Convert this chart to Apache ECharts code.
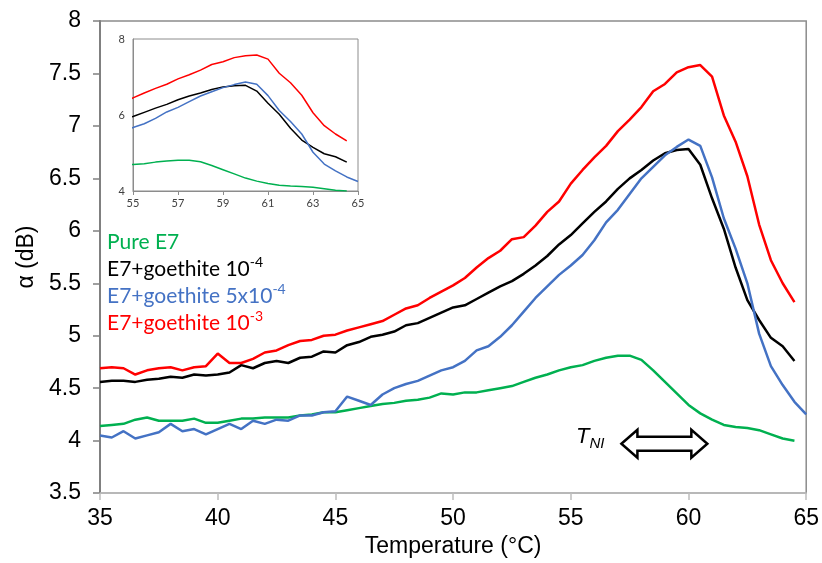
<!DOCTYPE html>
<html>
<head>
<meta charset="utf-8">
<title>alpha vs temperature</title>
<script src="https://cdn.jsdelivr.net/npm/echarts@6/dist/echarts.min.js"></script>
<style>
  html, body { margin: 0; padding: 0; background: #fff; }
  #chart { width: 822px; height: 563px; }
</style>
</head>
<body>
<div id="chart"></div>
<script>
// temperature (°C), read every 0.5 degree
const temps = [35, 35.5, 36, 36.5, 37, 37.5, 38, 38.5, 39, 39.5, 40, 40.5, 41, 41.5, 42, 42.5, 43, 43.5, 44, 44.5,
  45, 45.5, 46, 46.5, 47, 47.5, 48, 48.5, 49, 49.5, 50, 50.5, 51, 51.5, 52, 52.5, 53, 53.5, 54, 54.5,
  55, 55.5, 56, 56.5, 57, 57.5, 58, 58.5, 59, 59.5, 60, 60.5, 61, 61.5, 62, 62.5, 63, 63.5, 64, 64.5, 65];

// attenuation α (dB)
const pureE7 = [4.14, 4.15, 4.16, 4.20, 4.22, 4.19, 4.19, 4.19, 4.21, 4.17, 4.17, 4.19, 4.21, 4.21, 4.22, 4.22, 4.22, 4.24, 4.25, 4.27,
  4.27, 4.29, 4.31, 4.33, 4.35, 4.36, 4.38, 4.39, 4.41, 4.45, 4.44, 4.46, 4.46, 4.48, 4.50, 4.52, 4.56, 4.60, 4.63, 4.67,
  4.70, 4.72, 4.76, 4.79, 4.81, 4.81, 4.77, 4.67, 4.56, 4.45, 4.34, 4.26, 4.20, 4.15, 4.13, 4.12, 4.10, 4.06, 4.02, 4.00, null];

const goethite1e4 = [4.56, 4.57, 4.57, 4.56, 4.58, 4.59, 4.61, 4.60, 4.63, 4.62, 4.63, 4.65, 4.72, 4.69, 4.74, 4.76, 4.74, 4.79, 4.80, 4.85,
  4.84, 4.91, 4.94, 4.99, 5.01, 5.04, 5.10, 5.12, 5.17, 5.22, 5.27, 5.29, 5.35, 5.41, 5.47, 5.52, 5.59, 5.67, 5.76, 5.87,
  5.96, 6.07, 6.18, 6.28, 6.40, 6.50, 6.58, 6.67, 6.74, 6.77, 6.78, 6.63, 6.31, 6.02, 5.65, 5.34, 5.15, 4.98, 4.90, 4.76, null];

const goethite5e4 = [4.05, 4.03, 4.09, 4.02, 4.05, 4.08, 4.16, 4.09, 4.11, 4.06, 4.11, 4.16, 4.11, 4.19, 4.16, 4.20, 4.19, 4.24, 4.24, 4.27,
  4.28, 4.42, 4.38, 4.34, 4.44, 4.50, 4.54, 4.57, 4.62, 4.67, 4.70, 4.76, 4.86, 4.90, 4.99, 5.10, 5.23, 5.36, 5.47, 5.58,
  5.67, 5.77, 5.91, 6.08, 6.20, 6.35, 6.50, 6.61, 6.72, 6.80, 6.87, 6.81, 6.51, 6.12, 5.83, 5.50, 5.02, 4.71, 4.53, 4.37, 4.25];

const goethite1e3 = [4.69, 4.70, 4.69, 4.63, 4.67, 4.69, 4.70, 4.67, 4.70, 4.71, 4.83, 4.74, 4.74, 4.78, 4.84, 4.86, 4.91, 4.95, 4.96, 5.00,
  5.01, 5.05, 5.08, 5.11, 5.14, 5.20, 5.26, 5.29, 5.36, 5.42, 5.48, 5.55, 5.65, 5.74, 5.81, 5.92, 5.94, 6.05, 6.18, 6.28,
  6.45, 6.58, 6.70, 6.81, 6.95, 7.06, 7.18, 7.33, 7.40, 7.51, 7.56, 7.58, 7.47, 7.10, 6.85, 6.52, 6.06, 5.72, 5.50, 5.32, null];

const seriesNames = ['Pure E7', 'E7+goethite 10^-4', 'E7+goethite 5x10^-4', 'E7+goethite 10^-3'];
const seriesColors = ['#00b050', '#000000', '#4472c4', '#ff0000'];
const seriesValues = [pureE7, goethite1e4, goethite5e4, goethite1e3];

function toPairs(values) {
  return temps.map((t, i) => [t, values[i]]).filter(p => p[1] != null);
}

const chart = echarts.init(document.getElementById('chart'));

const mainSeries = seriesNames.map((name, i) => ({
  name: name,
  type: 'line',
  xAxisIndex: 0,
  yAxisIndex: 0,
  data: toPairs(seriesValues[i]),
  showSymbol: false,
  symbol: 'none',
  color: seriesColors[i],
  lineStyle: { width: 2.5, color: seriesColors[i] },
  z: 2
}));

const insetSeries = seriesNames.map((name, i) => ({
  name: name,
  type: 'line',
  xAxisIndex: 1,
  yAxisIndex: 1,
  data: toPairs(seriesValues[i]),
  showSymbol: false,
  symbol: 'none',
  color: seriesColors[i],
  lineStyle: { width: 1.5, color: seriesColors[i] },
  clip: true,
  z: 12
}));

chart.setOption({
  animation: false,
  backgroundColor: '#fff',
  textStyle: { fontFamily: 'Liberation Sans' },
  legend: {
    orient: 'vertical',
    left: 102,
    top: 232,
    padding: 0,
    itemGap: 2,
    itemWidth: 0,
    itemHeight: 0,
    icon: 'none',
    selectedMode: false,
    data: seriesNames.map((n, i) => ({ name: n, textStyle: { color: seriesColors[i] } })),
    formatter: function (name) {
      const parts = name.split('^');
      if (parts.length === 1) return '{b|' + name + '}';
      return '{b|' + parts[0] + '}{s|' + parts[1] + '}';
    },
    textStyle: {
      fontFamily: 'Lato',
      fontSize: 21,
      rich: {
        b: { fontFamily: 'Lato', fontSize: 21, lineHeight: 25, verticalAlign: 'bottom' },
        s: { fontFamily: 'Lato', fontSize: 14, lineHeight: 25, verticalAlign: 'top' }
      }
    }
  },
  grid: [
    { left: 100, right: 15, top: 21, bottom: 65, show: true, borderColor: '#8c8c8c', borderWidth: 1.5, backgroundColor: 'transparent' },
    { left: 133, top: 39, width: 225, height: 152, show: true, borderColor: '#8c8c8c', borderWidth: 1, backgroundColor: '#fff', z: 10 }
  ],
  xAxis: [
    {
      gridIndex: 0,
      type: 'value',
      min: 35,
      max: 65,
      interval: 5,
      name: 'Temperature (°C)',
      nameLocation: 'middle',
      nameGap: 37,
      nameTextStyle: { fontSize: 23, color: '#000', fontFamily: 'Liberation Sans' },
      axisLine: { lineStyle: { color: '#bdbdbd', width: 1.5 } },
      axisTick: { show: true, length: 7, lineStyle: { color: '#bdbdbd', width: 1.5 } },
      axisLabel: { fontSize: 23, color: '#000', margin: 14, fontFamily: 'Liberation Sans' },
      splitLine: { show: false }
    },
    {
      gridIndex: 1,
      type: 'value',
      min: 55,
      max: 65,
      interval: 2,
      z: 11,
      axisLine: { lineStyle: { color: '#8c8c8c', width: 1 } },
      axisTick: { show: true, length: 4, lineStyle: { color: '#8c8c8c' } },
      axisLabel: { fontSize: 11, color: '#404040', margin: 7, fontFamily: 'Lato' },
      splitLine: { show: false }
    }
  ],
  yAxis: [
    {
      gridIndex: 0,
      type: 'value',
      min: 3.5,
      max: 8,
      interval: 0.5,
      name: 'α (dB)',
      nameLocation: 'middle',
      nameGap: 60,
      nameTextStyle: { fontSize: 23, color: '#000', fontFamily: 'Liberation Sans' },
      axisLine: { show: true, lineStyle: { color: '#808080', width: 2 } },
      axisTick: { show: true, length: 7, lineStyle: { color: '#808080', width: 1.5 } },
      axisLabel: { fontSize: 23, color: '#000', margin: 19, fontFamily: 'Liberation Sans' },
      splitLine: { show: false }
    },
    {
      gridIndex: 1,
      type: 'value',
      min: 4,
      max: 8,
      interval: 2,
      z: 11,
      axisLine: { show: true, lineStyle: { color: '#8c8c8c', width: 1 } },
      axisTick: { show: false },
      axisLabel: { fontSize: 11, color: '#404040', margin: 8, fontFamily: 'Lato' },
      splitLine: { show: false }
    }
  ],
  series: mainSeries.concat(insetSeries)
});

// T_NI label and the open double arrow, placed in data coordinates
const arrowL = chart.convertToPixel({ gridIndex: 0 }, [57.15, 3.97]);
const arrowR = chart.convertToPixel({ gridIndex: 0 }, [60.80, 3.97]);
const labelPos = chart.convertToPixel({ gridIndex: 0 }, [55.22, 4.02]);
const yc = arrowL[1];
const h = 16, H = 14, s = 7;
const xl = arrowL[0], xr = arrowR[0];

chart.setOption({
  graphic: [
    {
      type: 'polygon',
      z: 20,
      shape: {
        points: [
          [xl, yc], [xl + h, yc - H], [xl + h, yc - s], [xr - h, yc - s], [xr - h, yc - H],
          [xr, yc], [xr - h, yc + H], [xr - h, yc + s], [xl + h, yc + s], [xl + h, yc + H]
        ]
      },
      style: { fill: '#fff', stroke: '#000', lineWidth: 2.5, lineJoin: 'miter' }
    },
    {
      type: 'text',
      z: 20,
      x: labelPos[0],
      y: labelPos[1],
      style: {
        text: '{t|T}{n|NI}',
        verticalAlign: 'middle',
        rich: {
          t: { fontFamily: 'Liberation Sans', fontStyle: 'italic', fontSize: 22, fill: '#000', lineHeight: 26, verticalAlign: 'top' },
          n: { fontFamily: 'Liberation Sans', fontStyle: 'italic', fontSize: 15, fill: '#000', lineHeight: 26, verticalAlign: 'bottom' }
        }
      }
    }
  ]
});
</script>
</body>
</html>
